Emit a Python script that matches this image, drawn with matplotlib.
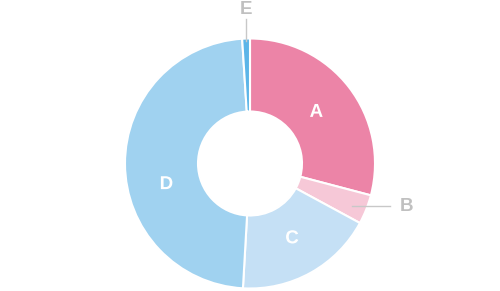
import numpy as np
import matplotlib.pyplot as plt
import matplotlib.patheffects as pe

labels = ['A', 'B', 'C', 'D', 'E']
values = [29.1, 3.8, 18.0, 48.1, 1.0]
colors = ['#ec84a7', '#f6c8d7', '#c5e0f5', '#a0d2f0', '#5cb5e8']
inside = [True, False, True, True, False]

plt.rcParams['font.family'] = ['Liberation Sans', 'DejaVu Sans']

fig = plt.figure(figsize=(5, 2.91), dpi=100)
ax = fig.add_axes([0, 0, 1, 1])

wedges, _ = ax.pie(values, colors=colors, startangle=90, counterclock=False,
                   radius=1.0,
                   wedgeprops=dict(width=0.584, edgecolor='white', linewidth=1.5))

ax.set_xlim(-2.0, 2.0)
ax.set_ylim(-1.02, 1.308)
ax.set_aspect('equal')
ax.axis('off')

for w, lab, col, ins in zip(wedges, labels, colors, inside):
    mid_deg = (w.theta1 + w.theta2) / 2
    if lab == 'D':
        # the big slice's label sits a bit below its middle
        mid_deg += 14
    mid = np.deg2rad(mid_deg)
    cx, cy = np.cos(mid), np.sin(mid)
    if ins:
        r = 0.67 if lab == 'A' else 0.69
        ax.text(r * cx, r * cy, lab, ha='center', va='center', color='white',
                fontsize=13.5, fontweight='bold',
                path_effects=[pe.withStroke(linewidth=2.5, foreground=col)])
    elif cy > 0.9:
        # label above the ring
        ax.plot([0.98 * cx, 0.98 * cx], [0.98 * cy, 1.16], color='#c8c8c8', lw=1)
        ax.text(0.98 * cx, 1.235, lab, ha='center', va='center', color='#c0c0c0',
                fontsize=13.5, fontweight='bold')
    else:
        # label to the right
        x0, y0 = 0.88 * cx, 0.88 * cy - 0.02
        ax.plot([x0, 1.12], [y0, y0], color='#c8c8c8', lw=1)
        ax.text(1.2, y0, lab, ha='left', va='center', color='#c0c0c0',
                fontsize=13.5, fontweight='bold')

plt.savefig('out.png', dpi=100)
